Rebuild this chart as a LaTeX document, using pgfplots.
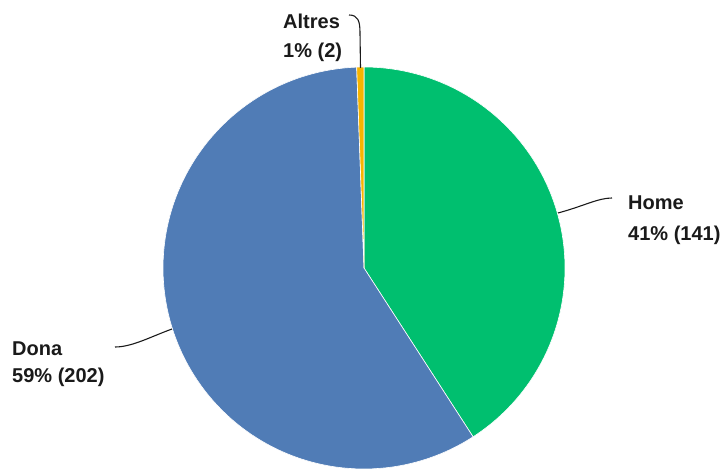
\documentclass[border=0pt]{standalone}
\usepackage{pgfplots}
\pgfplotsset{compat=1.18}
\usepackage{fontspec}
\setmainfont{Liberation Sans}

\definecolor{cHome}{HTML}{00BF6F}
\definecolor{cDona}{HTML}{507CB6}
\definecolor{cAltres}{HTML}{F6B400}
\definecolor{cText}{HTML}{1A1A1A}

% valors
\def\vHome{141}
\def\vDona{202}
\def\vAltres{2}

\begin{document}
\begin{tikzpicture}
\pgfmathsetmacro{\total}{\vHome+\vDona+\vAltres}
\pgfmathsetmacro{\aA}{90}
\pgfmathsetmacro{\aB}{\aA-360*(\vHome/\total)}
\pgfmathsetmacro{\aC}{\aB-360*(\vDona/\total)}
\pgfmathsetmacro{\aD}{\aC-360*(\vAltres/\total)}
\begin{axis}[
    scale only axis,
    width=722bp, height=469bp,
    xmin=0, xmax=722, ymin=0, ymax=469,
    hide axis, clip=false,
    every axis plot/.append style={draw=white, line width=0.6pt, samples=120, variable=\t},
]
\addplot[fill=cHome, domain=\aB:\aA] ({364+201*cos(\t)},{201+201*sin(\t)}) -- (axis cs:364,201) -- cycle;
\addplot[fill=cDona, domain=\aC:\aB] ({364+201*cos(\t)},{201+201*sin(\t)}) -- (axis cs:364,201) -- cycle;
\addplot[fill=cAltres, domain=\aD:\aC] ({364+201*cos(\t)},{201+201*sin(\t)}) -- (axis cs:364,201) -- cycle;

% línies guia
\draw[cText, line width=1.1pt] (axis cs:349,454) .. controls (axis cs:358,454) and (axis cs:360,448) .. (axis cs:360,436) -- (axis cs:360.5,401);
\draw[cText, line width=1.1pt] (axis cs:558,256) .. controls (axis cs:584,263) and (axis cs:598,271) .. (axis cs:612,271);
\draw[cText, line width=1.1pt] (axis cs:172,140) .. controls (axis cs:150,132) and (axis cs:132,122) .. (axis cs:115,122);

% etiquetes
\begin{scope}[every node/.style={anchor=base west, inner sep=0pt, text=cText, font=\bfseries\fontsize{20bp}{24bp}\selectfont}]
\node at (axis cs:283,440) {Altres};
\node at (axis cs:283,411) {1\% (2)};
\node at (axis cs:628,259) {Home};
\node at (axis cs:628,228) {41\% (141)};
\node at (axis cs:12,113) {Dona};
\node at (axis cs:12,86) {59\% (202)};
\end{scope}
\end{axis}
\pgfresetboundingbox
\path (0,0) rectangle (722bp,469bp);
\end{tikzpicture}
\end{document}
